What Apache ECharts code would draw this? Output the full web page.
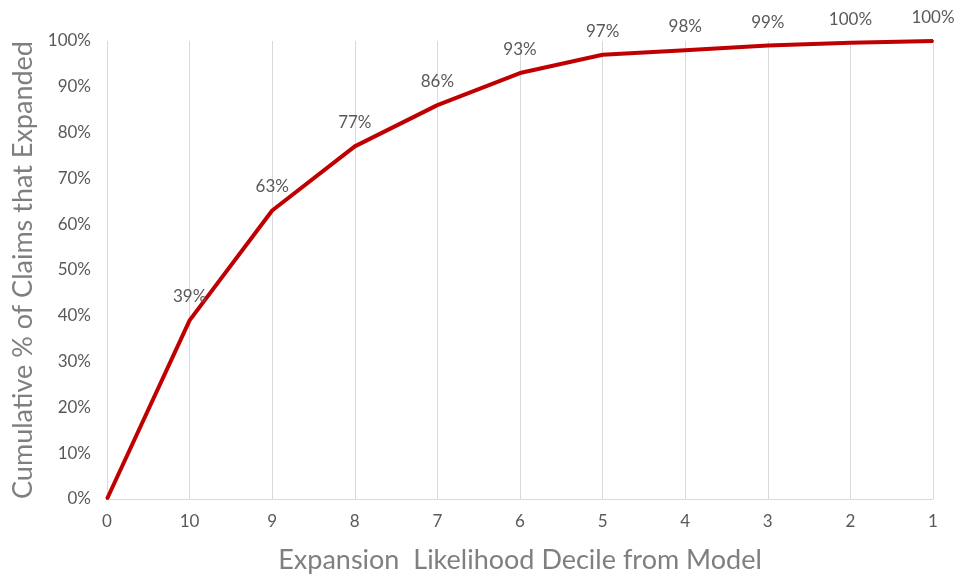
<!DOCTYPE html>
<html>
<head>
<meta charset="utf-8">
<script src="https://cdn.jsdelivr.net/npm/echarts@6/dist/echarts.min.js"></script>
<style>html,body{margin:0;padding:0;background:#fff;}#c{width:970px;height:575px;}</style>
</head>
<body>
<div id="c"></div>
<script>
const categories = ['0','10','9','8','7','6','5','4','3','2','1'];
const cumulativePct = [0, 39, 63, 77, 86, 93, 97, 98, 99, 99.6, 100];
const yTicks = [0,10,20,30,40,50,60,70,80,90,100];

const chart = echarts.init(document.getElementById('c'));
const font = 'Lato, "Open Sans", sans-serif';
chart.setOption({
  animation: false,
  backgroundColor: '#fff',
  grid: {left: 107, right: 37, top: 41, bottom: 76, containLabel: false, outerBoundsMode: 'none'},
  xAxis: {
    type: 'category',
    data: categories,
    boundaryGap: false,
    name: 'Expansion  Likelihood Decile from Model',
    nameLocation: 'middle',
    nameGap: 48,
    nameTextStyle: {fontSize: 27, color: '#7f7f7f', fontFamily: font},
    axisLine: {lineStyle: {color: '#d9d9d9', width: 1}},
    axisTick: {show: false},
    axisLabel: {fontSize: 17, color: '#595959', fontFamily: font, margin: 14},
    splitLine: {show: true, lineStyle: {color: '#d9d9d9', width: 1}}
  },
  yAxis: {
    type: 'value',
    min: yTicks[0], max: yTicks[yTicks.length-1], interval: 10,
    name: 'Cumulative % of Claims that Expanded',
    nameLocation: 'middle',
    nameGap: 58,
    nameTextStyle: {fontSize: 27, color: '#7f7f7f', fontFamily: font},
    axisLine: {show: false},
    axisTick: {show: false},
    axisLabel: {fontSize: 17, color: '#595959', fontFamily: font, margin: 16, formatter: v => v + '%'},
    splitLine: {show: false}
  },
  series: [{
    type: 'line',
    data: cumulativePct,
    symbol: 'circle',
    symbolSize: 2,
    showSymbol: true,
    showAllSymbol: true,
    itemStyle: {color: '#C00000'},
    lineStyle: {color: '#C00000', width: 4},
    label: {
      show: true, position: 'top', distance: 14,
      fontSize: 17, color: '#595959', fontFamily: font,
      formatter: p => p.dataIndex === 0 ? '' : Math.round(p.value) + '%'
    }
  }]
});
</script>
</body>
</html>
